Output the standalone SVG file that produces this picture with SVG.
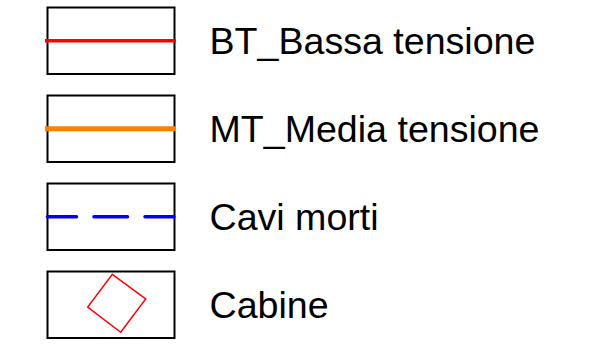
<svg xmlns="http://www.w3.org/2000/svg" width="597" height="351" viewBox="0 0 597 351">
<style>
.box{fill:#fff;stroke:#000;stroke-width:2}
.lbl{font-family:"Liberation Sans",Arial,sans-serif;font-size:37.6px;fill:#000}
</style>
<rect width="597" height="351" fill="#fff"/>
<g id="bt">
<rect class="box" x="47.5" y="7.5" width="127" height="66.5"/>
<line x1="45" y1="40.8" x2="176" y2="40.8" stroke="#ff0000" stroke-width="3.5"/>
<text class="lbl" x="209.5" y="53.8">BT_Bassa tensione</text>
</g>
<g id="mt">
<rect class="box" x="47.5" y="95.5" width="127" height="66.5"/>
<line x1="45" y1="128.7" x2="176" y2="128.7" stroke="#ff8000" stroke-width="5"/>
<text class="lbl" x="209.5" y="141.6">MT_Media tensione</text>
</g>
<g id="cavi">
<rect class="box" x="47.5" y="183.5" width="127" height="66.5"/>
<line x1="47.5" y1="216.7" x2="174.5" y2="216.7" stroke="#0000ff" stroke-width="3.5" stroke-linecap="round" stroke-dasharray="29 17.5 33.5 17.5 29 17.5"/>
<text class="lbl" x="209.5" y="229.6">Cavi morti</text>
</g>
<g id="cabine">
<rect class="box" x="47.5" y="271.5" width="127" height="66.5"/>
<polygon points="112.3,274.3 145.7,299 120.7,332.3 87.7,307" fill="none" stroke="#ff0000" stroke-width="1.5"/>
<text class="lbl" x="209.5" y="317.6">Cabine</text>
</g>
</svg>
